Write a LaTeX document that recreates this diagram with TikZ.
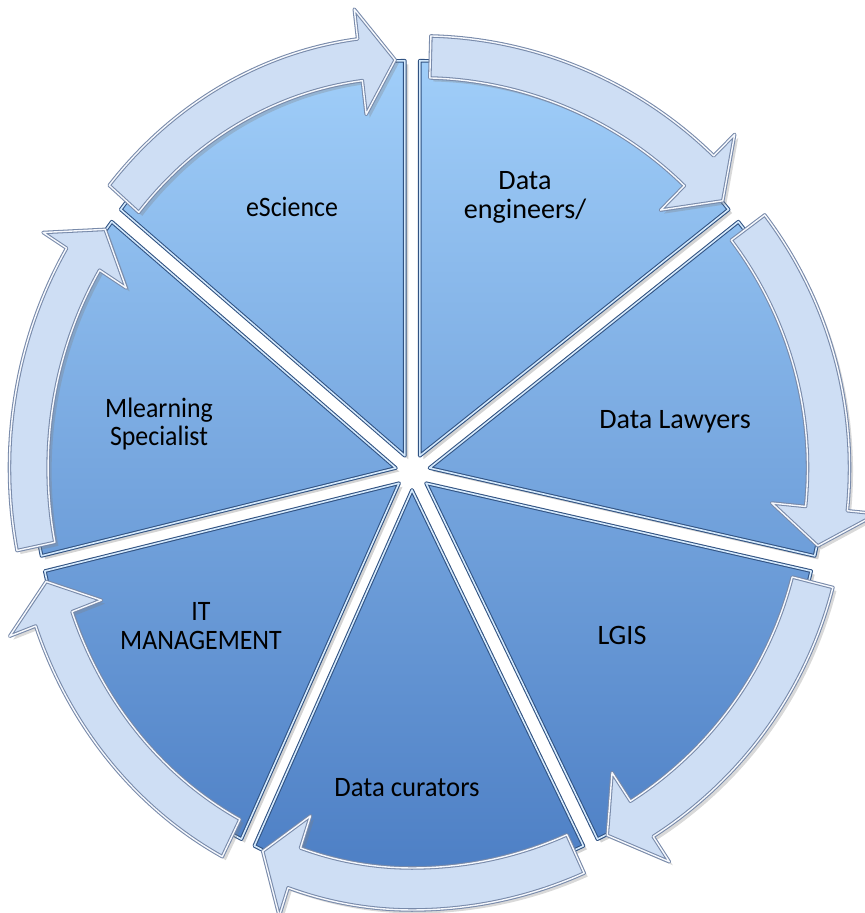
\documentclass[tikz,border=0pt]{standalone}
\usepackage{fontspec}
\setmainfont{Carlito}
\usetikzlibrary{shadows}

\definecolor{segtop}{RGB}{160,206,249}
\definecolor{segbot}{RGB}{76,126,196}
\definecolor{segedge}{RGB}{48,82,130}
\definecolor{arrowfill}{RGB}{206,222,244}
\definecolor{arrowedge}{RGB}{120,138,170}

\tikzset{
	wedge/.style={top color=segtop, bottom color=segbot, draw=segedge, double=segtop!45!white, double distance=0.9pt, line width=0.6pt, line join=round, drop shadow={opacity=0.35, shadow xshift=2pt, shadow yshift=-2pt}},
	cyclearrow/.style={fill=arrowfill, draw=arrowedge, double=white!80!arrowfill, double distance=0.8pt, line width=0.6pt, line join=round, drop shadow={opacity=0.3, shadow xshift=2pt, shadow yshift=-2pt}},
	segtext/.style={font=\fontsize{16}{16.5}\selectfont, align=center, text=black, inner sep=0pt}
}

\begin{document}
\begin{tikzpicture}[x=0.02cm, y=0.02cm,
		declare function={sx(\t)=(\t<0)*0.92*(\t)+(\t>=0)*(\t);}]
		\useasboundingbox (-412,-441) rectangle (453,472);
		
		% pie pieces, pushed out from the hub
		\shade[wedge] \foreach \m [evaluate=\m as \a using \m+25.7143, evaluate=\m as \b using \m-25.7143] in {64.2857,12.8571,-38.5714,-90,-141.4286,-192.8571,-244.2857} {
			({sx(18*cos(\m))},{18*sin(\m)}) -- plot[domain=\a:\b, samples=40] ({sx(18*cos(\m)+395*cos(\x))},{18*sin(\m)+395*sin(\x)}) -- cycle
		};
		
		% curved arrows on the rim
		\foreach \m in {64.2857,12.8571,-38.5714,-90,-141.4286,-192.8571,-244.2857} {
			\pgfmathsetmacro\cx{18*cos(\m)}
			\pgfmathsetmacro\cy{18*sin(\m)}
			\pgfmathsetmacro\ts{\m+24.2}
			\pgfmathsetmacro\th{\m-18.7}
			\pgfmathsetmacro\tp{\m-24.2}
			\draw[cyclearrow] plot[domain=\ts:\th, samples=40] ({sx(\cx+420*cos(\x))},{\cy+420*sin(\x)})
				-- ({sx(\cx+450*cos(\th))},{\cy+450*sin(\th)})
				-- ({sx(\cx+396*cos(\tp))},{\cy+396*sin(\tp)})
				-- ({sx(\cx+344*cos(\th))},{\cy+344*sin(\th)})
				-- plot[domain=\th:\ts, samples=40] ({sx(\cx+378*cos(\x))},{\cy+378*sin(\x)})
				-- cycle;
		}
		
		\node[segtext] (dataeng) at (113,275) {Data\\engineers/};
		\node[segtext] (lawyers) at (263,50) {Data Lawyers};
		\node[segtext] (lgis) at (210,-163) {LGIS};
		\node[segtext, xscale=0.95] (curators) at (-5,-316) {Data curators};
		\node[segtext, xscale=0.92] (itman) at (-211,-154) {IT\\MANAGEMENT};
		\node[segtext, xscale=0.92] (mlearn) at (-253,48) {Mlearning\\Specialist};
		\node[segtext, xscale=0.92] (escience) at (-120,265) {eScience};
	\end{tikzpicture}
\end{document}
